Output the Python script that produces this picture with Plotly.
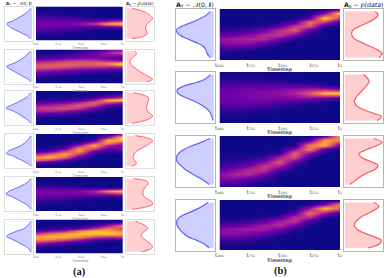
import plotly.graph_objects as go

# ---------- data ----------
tick_vals = [0, 0.26, 0.525, 0.785, 1]
tick_text = ["t₉₉₁", "t₇₅₁", "t₅₀₁", "t₂₅₁", "t₁"]
curve_y = [0.05, 0.125, 0.2, 0.275, 0.35, 0.425, 0.5, 0.575, 0.65, 0.725, 0.8, 0.875, 0.95]

blue_a1 = [.06, .12, .23, .36, .52, .68, .88, .83, .69, .5, .32, .15, .06]
blue_a2 = [.06, .14, .24, .36, .5, .7, .9, .78, .62, .46, .3, .14, .06]
blue_a3 = [.05, .12, .22, .38, .55, .75, .92, .7, .52, .38, .24, .12, .05]
blue_a4 = [.05, .1, .18, .28, .42, .62, .82, .9, .66, .48, .3, .13, .05]
blue_a5 = [.05, .12, .24, .42, .62, .82, .92, .72, .54, .38, .22, .1, .05]
blue_a6 = [.05, .1, .18, .3, .56, .78, .9, .72, .54, .38, .2, .1, .05]
red_a1 = [.2, .55, .76, .88, .95, .88, .77, .71, .7, .73, .76, .62, .2]
red_a2 = [.32, .36, .29, .18, .13, .15, .24, .36, .5, .64, .81, .95, .74]
red_a3 = [.26, .64, .8, .8, .77, .74, .73, .76, .83, .95, .86, .64, .2]
red_a4 = [.32, .8, .95, .86, .71, .54, .38, .29, .25, .26, .32, .36, .2]
red_a5 = [.26, .74, .79, .7, .64, .6, .6, .64, .76, .92, .95, .74, .2]
red_a6 = [.32, .56, .71, .77, .65, .55, .55, .64, .76, .88, .95, .86, .56]
blue_b1 = [.09, .2, .38, .6, .84, .95, .88, .7, .47, .28, .2, .17, .09]
blue_b2 = [.09, .19, .42, .76, .93, .9, .72, .49, .3, .17, .09, .05, .02]
blue_b3 = [.1, .32, .58, .78, .9, .95, .93, .84, .73, .58, .42, .25, .12]
blue_b4 = [.15, .29, .48, .71, .88, .94, .93, .87, .78, .66, .43, .23, .12]
red_b1 = [.8, .87, .76, .58, .36, .2, .18, .24, .42, .64, .85, .98, .89]
red_b2 = [.49, .6, .63, .56, .47, .38, .29, .25, .29, .45, .71, .96, .85]
red_b3 = [.76, .98, .8, .54, .37, .45, .67, .87, .8, .58, .4, .27, .13]
red_b4 = [.76, .89, .78, .58, .4, .29, .25, .31, .49, .76, .96, .89, .6]

heat_x_a = [0, 1/6, 2/6, 3/6, 4/6, 5/6, 1]
heat_x_b = [0, .125, .25, .375, .5, .625, .75, .875, 1]
heat_y = [0, .083, .167, .25, .333, .417, .5, .583, .667, .75, .833, .917, 1]

heat_a1 = [
    [0, 0, 0, 0, 0, 0, 0], [1, 1, 1, 0, 0, 0, 0], [3, 3, 2, 1, 0, 0, 0], [8, 7, 5, 3, 1, 0, 0],
    [14, 13, 11, 8, 3, 1, 0], [20, 20, 19, 17, 14, 25, 35], [23, 24, 24, 30, 45, 80, 100],
    [20, 20, 19, 17, 14, 20, 25], [14, 13, 11, 8, 3, 1, 0], [8, 7, 5, 3, 1, 0, 0],
    [3, 3, 2, 1, 0, 0, 0], [1, 1, 0, 0, 0, 0, 0], [0, 0, 0, 0, 0, 0, 0]]
heat_a2 = [
    [0, 0, 0, 2, 8, 18, 25], [1, 2, 4, 10, 18, 35, 55], [6, 8, 12, 18, 22, 28, 20], [14, 18, 22, 28, 28, 18, 12],
    [30, 36, 45, 50, 48, 40, 30], [50, 55, 60, 60, 62, 72, 100], [58, 58, 55, 48, 45, 42, 45],
    [40, 35, 28, 22, 18, 15, 8], [22, 16, 12, 8, 5, 3, 1], [10, 6, 4, 2, 1, 0, 0],
    [3, 2, 1, 0, 0, 0, 0], [1, 0, 0, 0, 0, 0, 0], [0, 0, 0, 0, 0, 0, 0]]
heat_a3 = [
    [0, 0, 0, 0, 0, 0, 0], [0, 0, 0, 1, 2, 6, 12], [2, 2, 3, 4, 8, 22, 38], [6, 7, 9, 14, 32, 80, 95],
    [14, 16, 22, 35, 60, 55, 35], [30, 36, 45, 58, 50, 15, 8], [42, 50, 55, 45, 20, 4, 1],
    [35, 38, 30, 18, 6, 1, 0], [15, 12, 8, 4, 1, 0, 0], [5, 4, 2, 1, 0, 0, 0],
    [1, 1, 0, 0, 0, 0, 0], [0, 0, 0, 0, 0, 0, 0], [0, 0, 0, 0, 0, 0, 0]]
heat_a4 = [
    [0, 0, 0, 0, 0, 5, 30], [0, 0, 0, 0, 1, 30, 92], [0, 0, 0, 1, 10, 82, 85], [0, 0, 1, 10, 50, 72, 35],
    [1, 1, 5, 32, 82, 38, 22], [3, 4, 16, 72, 56, 20, 28], [10, 18, 50, 76, 18, 6, 10],
    [38, 58, 80, 46, 4, 1, 1], [78, 85, 60, 14, 1, 0, 0], [60, 45, 18, 3, 0, 0, 0],
    [20, 10, 4, 0, 0, 0, 0], [4, 2, 1, 0, 0, 0, 0], [0, 0, 0, 0, 0, 0, 0]]
heat_a5 = [
    [0, 0, 0, 0, 0, 0, 0], [0, 0, 0, 0, 0, 0, 0], [2, 2, 2, 1, 0, 0, 0], [7, 6, 5, 2, 1, 0, 0],
    [15, 15, 14, 12, 10, 10, 15], [24, 24, 24, 26, 38, 70, 88], [25, 24, 24, 22, 25, 30, 35],
    [18, 16, 14, 10, 4, 2, 1], [11, 8, 6, 3, 1, 0, 0], [5, 3, 2, 1, 0, 0, 0],
    [2, 1, 1, 0, 0, 0, 0], [0, 0, 0, 0, 0, 0, 0], [0, 0, 0, 0, 0, 0, 0]]
heat_a6 = [
    [0, 0, 0, 0, 0, 0, 0], [0, 0, 0, 1, 2, 6, 12], [1, 1, 3, 5, 10, 35, 70], [4, 6, 10, 18, 45, 70, 50],
    [12, 20, 35, 65, 85, 80, 65], [45, 65, 78, 88, 90, 92, 85], [80, 85, 85, 75, 55, 45, 50],
    [72, 68, 55, 35, 15, 8, 5], [42, 28, 15, 6, 2, 1, 0], [15, 8, 3, 1, 0, 0, 0],
    [4, 2, 1, 0, 0, 0, 0], [1, 0, 0, 0, 0, 0, 0], [0, 0, 0, 0, 0, 0, 0]]
heat_b1 = [
    [0, 0, 0, 0, 0, 0, 0, 2, 12], [0, 0, 0, 0, 0, 0, 2, 25, 95], [0, 0, 0, 0, 0, 2, 15, 90, 45],
    [0, 0, 0, 1, 4, 14, 65, 45, 3], [2, 2, 3, 6, 16, 45, 55, 5, 0], [8, 8, 12, 22, 42, 58, 15, 0, 0],
    [18, 22, 28, 40, 45, 25, 2, 0, 0], [30, 35, 38, 38, 20, 4, 0, 0, 0], [27, 30, 30, 18, 5, 0, 0, 0, 0],
    [15, 16, 10, 4, 0, 0, 0, 0, 0], [5, 4, 2, 0, 0, 0, 0, 0, 0], [1, 0, 0, 0, 0, 0, 0, 0, 0],
    [0, 0, 0, 0, 0, 0, 0, 0, 0]]
heat_b2 = [
    [1, 1, 1, 0, 0, 0, 0, 0, 0], [3, 3, 3, 2, 1, 0, 0, 0, 0], [7, 8, 7, 6, 4, 2, 1, 0, 0],
    [13, 14, 15, 15, 15, 15, 12, 5, 1], [18, 20, 22, 24, 26, 30, 35, 35, 25], [21, 22, 25, 27, 30, 38, 58, 85, 95],
    [21, 22, 24, 25, 25, 26, 28, 20, 12], [18, 19, 20, 18, 16, 12, 6, 2, 0], [13, 14, 12, 10, 6, 3, 1, 0, 0],
    [8, 8, 6, 4, 2, 0, 0, 0, 0], [4, 3, 2, 1, 0, 0, 0, 0, 0], [1, 1, 0, 0, 0, 0, 0, 0, 0],
    [0, 0, 0, 0, 0, 0, 0, 0, 0]]
heat_b3 = [
    [0, 0, 0, 0, 0, 0, 1, 15, 80], [0, 0, 0, 0, 0, 0, 12, 78, 70], [0, 0, 0, 0, 0, 3, 68, 85, 15],
    [0, 0, 0, 0, 1, 28, 70, 15, 1], [1, 1, 1, 2, 8, 60, 30, 1, 0], [3, 3, 4, 8, 38, 55, 5, 0, 0],
    [6, 8, 12, 28, 56, 18, 0, 0, 0], [10, 14, 24, 48, 35, 4, 0, 0, 0], [18, 28, 42, 42, 13, 1, 0, 0, 0],
    [28, 38, 40, 22, 3, 0, 0, 0, 0], [26, 28, 20, 8, 0, 0, 0, 0, 0], [15, 12, 7, 2, 0, 0, 0, 0, 0],
    [5, 3, 1, 0, 0, 0, 0, 0, 0]]
heat_b4 = [
    [0, 0, 0, 0, 0, 0, 0, 0, 1], [0, 0, 0, 0, 0, 0, 3, 22, 72], [0, 0, 0, 0, 0, 2, 32, 85, 60],
    [0, 0, 0, 0, 2, 14, 64, 34, 5], [1, 1, 2, 4, 12, 42, 42, 3, 0], [5, 6, 10, 18, 34, 46, 10, 0, 0],
    [14, 18, 24, 34, 42, 22, 2, 0, 0], [27, 31, 34, 34, 22, 6, 0, 0, 0], [27, 27, 24, 16, 6, 1, 0, 0, 0],
    [16, 14, 10, 5, 1, 0, 0, 0, 0], [7, 5, 3, 1, 0, 0, 0, 0, 0], [2, 1, 0, 0, 0, 0, 0, 0, 0],
    [0, 0, 0, 0, 0, 0, 0, 0, 0]]

# ---------- layout in pixels ----------
W, H = 389, 278
fig = go.Figure()
axis_no = 0


def add_axes(x0, x1, y0, y1):
    global axis_no
    axis_no += 1
    xn, yn = f"xaxis{axis_no}", f"yaxis{axis_no}"
    return axis_no, xn, yn, [x0 / W, x1 / W], [1 - y1 / H, 1 - y0 / H]


def dist_panel(x0, x1, y0, y1, values, line, fill, flip, frame, lw):
    n, xn, yn, dx, dy = add_axes(x0, x1, y0, y1)
    rng = [0.97, -0.03] if flip else [-0.035, 1.0]
    fig.add_trace(go.Scatter(
        x=values, y=curve_y, mode="lines", fill="tozerox", fillcolor=fill,
        line=dict(color=line, width=lw, shape="spline"), hoverinfo="skip",
        xaxis=f"x{n}", yaxis=f"y{n}"))
    common = dict(showticklabels=False, ticks="", showgrid=False, zeroline=False,
                  showline=True, mirror=True, linecolor=frame, linewidth=1)
    fig.update_layout({xn: dict(domain=dx, range=rng, anchor=f"y{n}", **common),
                       yn: dict(domain=dy, range=[1, 0], anchor=f"x{n}", **common)})


def heat_panel(x0, x1, y0, y1, tx, z, tick_size, tick_color):
    n, xn, yn, dx, dy = add_axes(x0, x1, y0, y1)
    fig.add_trace(go.Heatmap(x=tx, y=heat_y, z=z, zmin=0, zmax=100, colorscale="Plasma",
                             zsmooth="best", showscale=False, hoverinfo="skip",
                             xaxis=f"x{n}", yaxis=f"y{n}"))
    fig.update_layout({
        xn: dict(domain=dx, range=[0, 1], anchor=f"y{n}", tickmode="array", tickvals=tick_vals,
                 ticktext=tick_text, ticks="", showgrid=False, zeroline=False, showline=False,
                 tickfont=dict(size=tick_size, color=tick_color, family="DejaVu Sans"),
                 automargin=False),
        yn: dict(domain=dy, range=[1, 0], anchor=f"x{n}", showticklabels=False, ticks="",
                 showgrid=False, zeroline=False, showline=False)})


def note(px, py, text, size, color="#222", family="DejaVu Sans"):
    return dict(x=px / W, y=1 - py / H, xref="paper", yref="paper", text=text, showarrow=False,
                font=dict(size=size, color=color, family=family), xanchor="center", yanchor="middle",
                borderpad=0, borderwidth=0)


BLUE_L, BLUE_F = "rgb(95,95,255)", "rgba(60,60,255,0.25)"
RED_L, RED_F = "rgb(255,85,95)", "rgba(255,60,60,0.25)"
notes = []

rows_a = [(6.5, 40.5), (49.5, 83.5), (91, 125), (134, 168), (177, 211), (219.5, 253.5)]
blues_a = [blue_a1, blue_a2, blue_a3, blue_a4, blue_a5, blue_a6]
reds_a = [red_a1, red_a2, red_a3, red_a4, red_a5, red_a6]
heats_a = [heat_a1, heat_a2, heat_a3, heat_a4, heat_a5, heat_a6]
for (y0, y1), b, r, h in zip(rows_a, blues_a, reds_a, heats_a):
    dist_panel(4.5, 33, y0, y1, b, BLUE_L, BLUE_F, True, "#dddddd", 0.9)
    heat_panel(36, 122.7, y0, y1, heat_x_a, h, 3.9, "#777")
    dist_panel(125.5, 154, y0, y1, r, RED_L, RED_F, False, "#dddddd", 0.9)
    notes.append(note(79.5, y1 + 7.6, "Timestep", 3.6, "#888"))

rows_b = [(9, 60), (72, 123), (136, 187), (200, 250.5)]
blues_b = [blue_b1, blue_b2, blue_b3, blue_b4]
reds_b = [red_b1, red_b2, red_b3, red_b4]
heats_b = [heat_b1, heat_b2, heat_b3, heat_b4]
for (y0, y1), b, r, h in zip(rows_b, blues_b, reds_b, heats_b):
    dist_panel(175.5, 215, y0, y1, b, BLUE_L, BLUE_F, True, "#b5b5b5", 1.2)
    heat_panel(219.5, 340, y0, y1, heat_x_b, h, 5.6, "#555")
    dist_panel(343.5, 383, y0, y1, r, RED_L, RED_F, False, "#b5b5b5", 1.2)
    notes.append(note(280, y1 + 9.5, "<b>Timestep</b>", 4.8, "#555"))

A_T = "<b>A</b><sub>T</sub> ~ 𝒩(0, <b>I</b>)"
A_0 = "<b>A</b><sub>0</sub> ~ <i>p</i>(<i>data</i>)"
fig.update_layout(
    width=W, height=H, autosize=False, margin=dict(l=0, r=0, t=0, b=0),
    paper_bgcolor="white", plot_bgcolor="white", showlegend=False,
    annotations=notes + [
        note(19, 3.5, A_T, 4.3), note(140, 3.5, A_0, 4.3),
        note(195, 4.5, A_T, 6.2), note(363, 4.5, A_0, 6.2),
        note(79, 272, "<b>(a)</b>", 10.5, "#111", "Liberation Serif"),
        note(280, 271, "<b>(b)</b>", 10.5, "#111", "Liberation Serif"),
    ])

fig.write_html("out.html", config=dict(displayModeBar=False),
               post_script="document.body.style.margin='0';")
